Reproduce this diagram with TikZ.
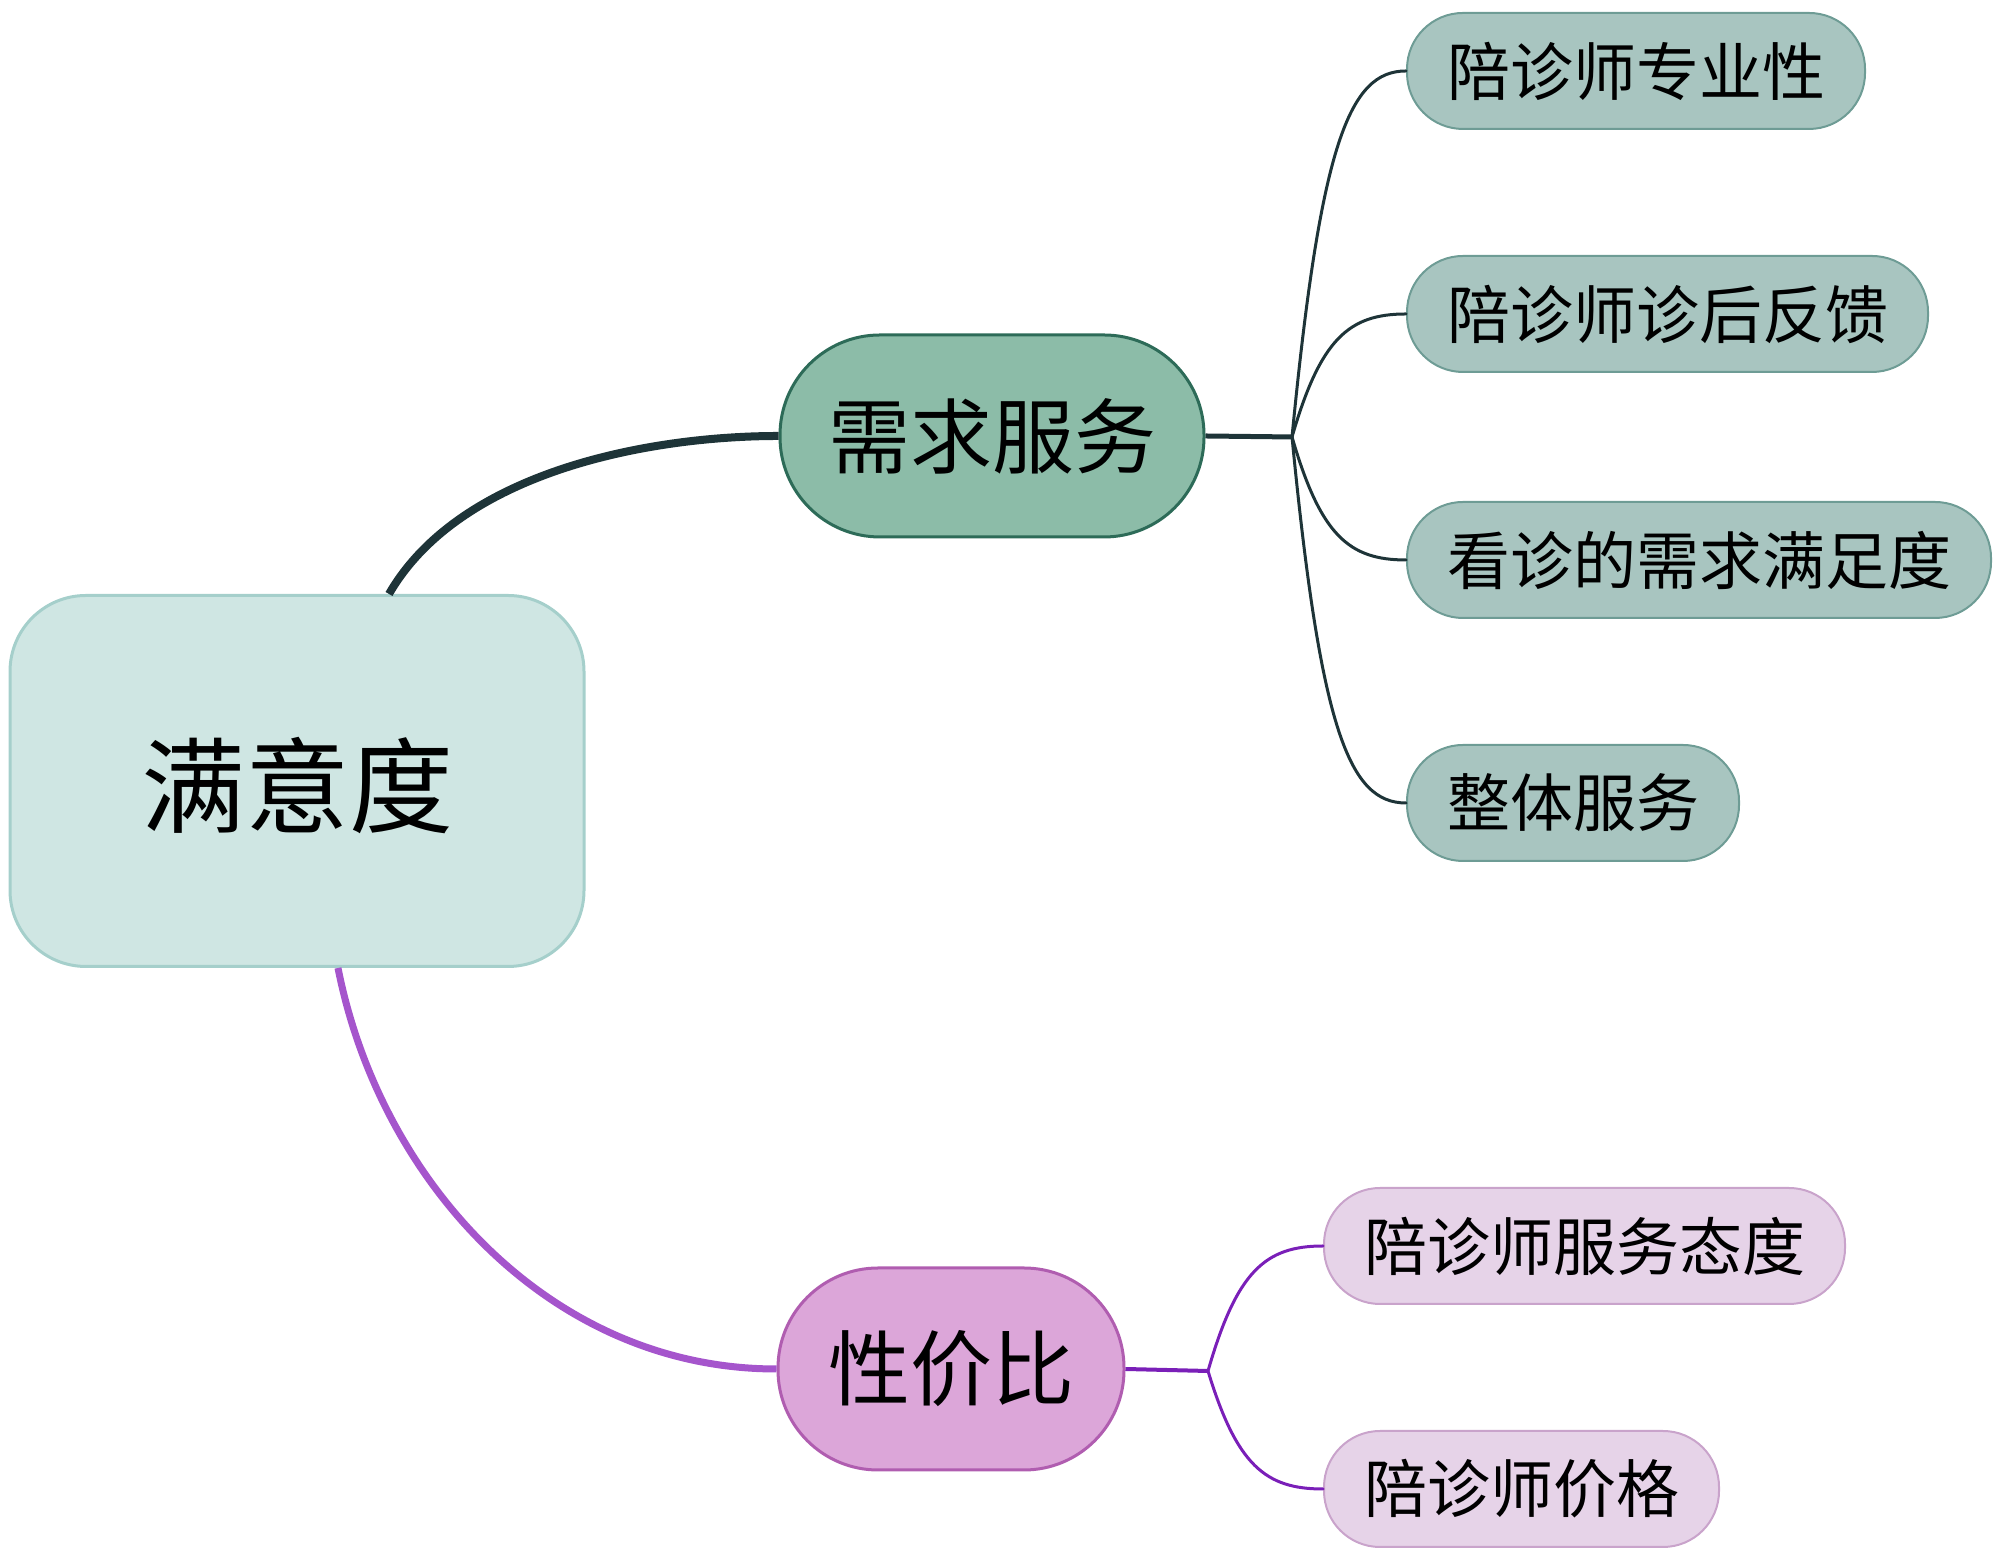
\documentclass[tikz,border=0pt]{standalone}
\usepackage{fontspec}
\newfontfamily\cjk{Noto Sans CJK SC}
\usetikzlibrary{calc}
\definecolor{rootfill}{HTML}{CFE6E3}
\definecolor{rootline}{HTML}{A5CFCB}
\definecolor{needfill}{HTML}{8CBCA8}
\definecolor{needline}{HTML}{2D6B58}
\definecolor{gfill}{HTML}{A8C5C0}
\definecolor{gline}{HTML}{6E9C95}
\definecolor{gwire}{HTML}{1E3438}
\definecolor{costfill}{HTML}{DCA6D9}
\definecolor{costline}{HTML}{B05DB0}
\definecolor{pfill}{HTML}{E6D3E8}
\definecolor{pline}{HTML}{C9A3CB}
\definecolor{pwire}{HTML}{A555CC}
\definecolor{ptwig}{HTML}{7A1FB8}

\begin{document}
\begin{tikzpicture}[x=0.5pt,y=0.5pt,
  rootbox/.style={draw=rootline,fill=rootfill,line width=1.5pt,rounded corners=38pt,
    minimum width=287pt,minimum height=185.5pt,font=\cjk\fontsize{52}{60}\selectfont},
  mainbox/.style={line width=1.5pt,rounded corners=50pt,inner xsep=24pt,inner ysep=0pt,
    minimum height=101pt,font=\cjk\fontsize{41}{48}\selectfont},
  leafbox/.style={anchor=west,line width=1pt,rounded corners=28pt,inner xsep=20pt,inner ysep=0pt,
    minimum height=58pt,font=\cjk\fontsize{31.5}{36}\selectfont},
  twig/.style={line width=1.5pt,line cap=round}]
  \useasboundingbox (0,0) rectangle (2000,1561);
  \node[rootbox,text depth=-6pt] (root) at (297,780) {满意度};
  \node[mainbox,draw=needline,fill=needfill] (need) at (992,1125) {需求服务};
  \node[mainbox,draw=costline,fill=costfill,inner xsep=25pt] (cost) at (951,192) {性价比};
  %
  \node[leafbox,draw=gline,fill=gfill] (g1) at (1406,1490) {陪诊师专业性};
  \node[leafbox,draw=gline,fill=gfill] (g2) at (1406,1247) {陪诊师诊后反馈};
  \node[leafbox,draw=gline,fill=gfill] (g3) at (1406,1001) {看诊的需求满足度};
  \node[leafbox,draw=gline,fill=gfill] (g4) at (1406,758) {整体服务};
  \node[leafbox,draw=pline,fill=pfill] (p1) at (1323,315) {陪诊师服务态度};
  \node[leafbox,draw=pline,fill=pfill] (p2) at (1323,72) {陪诊师价格};
  %
  \draw[gwire,line width=4pt] ([xshift=46pt]root.north) .. controls (460,1090) and (650,1125) .. (need.west);
  \draw[pwire,line width=3.5pt] ([xshift=20.5pt]root.south) .. controls (380,380) and (550,192) .. (cost.west);
  %
  \coordinate (ga) at (1292,1124);
  \coordinate (gb) at (1208,190);
  \draw[gwire,line width=2.5pt] (need.east) -- (ga);
  \draw[ptwig,line width=2pt] (cost.east) -- (gb);
  \foreach \leaf in {g1,g2,g3,g4}
    \draw[twig,gwire] let \p1=(ga), \p2=(\leaf.west) in
      (ga) .. controls ({\x1+0.25*(\x2-\x1)},{\y1+0.8*(\y2-\y1)}) and ({\x1+0.5*(\x2-\x1)},\y2) .. (\leaf.west);
  \foreach \leaf in {p1,p2}
    \draw[twig,ptwig] let \p1=(gb), \p2=(\leaf.west) in
      (gb) .. controls ({\x1+0.25*(\x2-\x1)},{\y1+0.8*(\y2-\y1)}) and ({\x1+0.5*(\x2-\x1)},\y2) .. (\leaf.west);
\end{tikzpicture}
\end{document}
